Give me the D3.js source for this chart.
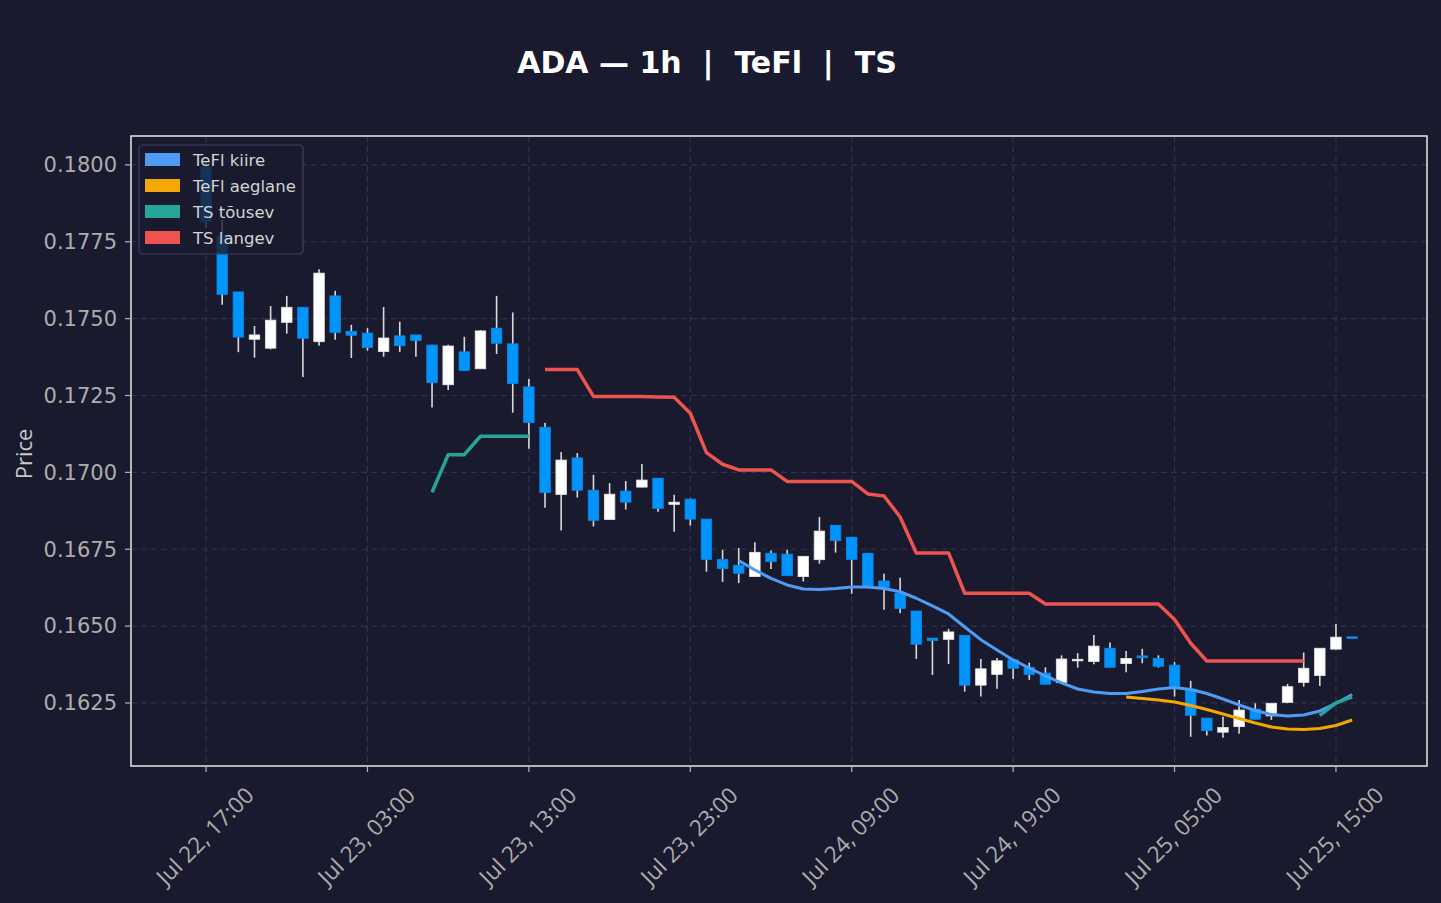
<!DOCTYPE html>
<html><head><meta charset="utf-8">
<script src="https://cdn.jsdelivr.net/npm/d3@7"></script>
<style>html,body{margin:0;padding:0;background:#1a1a2e;} svg{display:block}</style>
</head><body><svg id="c" width="1441" height="903"></svg>
<script>
// ---------- DATA ----------
const times = [
"2025-07-22T17:00","2025-07-22T18:00","2025-07-22T19:00","2025-07-22T20:00","2025-07-22T21:00","2025-07-22T22:00","2025-07-22T23:00",
"2025-07-23T00:00","2025-07-23T01:00","2025-07-23T02:00","2025-07-23T03:00","2025-07-23T04:00","2025-07-23T05:00","2025-07-23T06:00",
"2025-07-23T07:00","2025-07-23T08:00","2025-07-23T09:00","2025-07-23T10:00","2025-07-23T11:00","2025-07-23T12:00","2025-07-23T13:00",
"2025-07-23T14:00","2025-07-23T15:00","2025-07-23T16:00","2025-07-23T17:00","2025-07-23T18:00","2025-07-23T19:00","2025-07-23T20:00",
"2025-07-23T21:00","2025-07-23T22:00","2025-07-23T23:00","2025-07-24T00:00","2025-07-24T01:00","2025-07-24T02:00","2025-07-24T03:00",
"2025-07-24T04:00","2025-07-24T05:00","2025-07-24T06:00","2025-07-24T07:00","2025-07-24T08:00","2025-07-24T09:00","2025-07-24T10:00",
"2025-07-24T11:00","2025-07-24T12:00","2025-07-24T13:00","2025-07-24T14:00","2025-07-24T15:00","2025-07-24T16:00","2025-07-24T17:00",
"2025-07-24T18:00","2025-07-24T19:00","2025-07-24T20:00","2025-07-24T21:00","2025-07-24T22:00","2025-07-24T23:00","2025-07-25T00:00",
"2025-07-25T01:00","2025-07-25T02:00","2025-07-25T03:00","2025-07-25T04:00","2025-07-25T05:00","2025-07-25T06:00","2025-07-25T07:00",
"2025-07-25T08:00","2025-07-25T09:00","2025-07-25T10:00","2025-07-25T11:00","2025-07-25T12:00","2025-07-25T13:00","2025-07-25T14:00",
"2025-07-25T15:00","2025-07-25T16:00"];

const open = [.17994,.17767,.17587,.17433,.17404,.17488,.17537,.17425,.17574,.17459,.17453,.17393,.17444,.17447,
.17414,.17285,.17392,.17337,.17469,.17418,.17278,.17147,.16928,.17047,.16942,.16847,.16939,.16952,.16981,.16896,
.16913,.16848,.16717,.16698,.16661,.16737,.16734,.16661,.16716,.16828,.16789,.16737,.16647,.16607,.16549,.16461,
.16457,.16470,.16308,.16343,.16390,.16366,.16347,.16317,.16387,.16385,.16428,.16378,.16403,.16395,.16373,.16295,
.16201,.16155,.16173,.16230,.16208,.16252,.16317,.16339,.16425,.16465];
const high = [.18010,.17821,.17587,.17476,.17541,.17574,.17538,.17661,.17591,.17480,.17469,.17538,.17490,.17447,
.17415,.17415,.17441,.17463,.17574,.17520,.17304,.17161,.17066,.17063,.16992,.16965,.16972,.17027,.16981,.16927,
.16915,.16848,.16748,.16754,.16773,.16746,.16748,.16727,.16855,.16828,.16789,.16737,.16670,.16657,.16549,.16461,
.16491,.16470,.16393,.16396,.16390,.16381,.16366,.16405,.16412,.16471,.16447,.16419,.16426,.16405,.16383,.16322,
.16201,.16205,.16260,.16249,.16249,.16312,.16414,.16428,.16507,.16465];
const low = [.17795,.17545,.17391,.17373,.17400,.17451,.17310,.17412,.17431,.17372,.17396,.17376,.17392,.17376,
.17211,.17268,.17331,.17337,.17385,.17194,.17077,.16885,.16811,.16918,.16824,.16847,.16879,.16952,.16872,.16807,
.16827,.16677,.16644,.16640,.16661,.16686,.16664,.16645,.16703,.16739,.16605,.16623,.16553,.16542,.16393,.16341,
.16377,.16287,.16271,.16296,.16328,.16325,.16311,.16317,.16365,.16376,.16366,.16350,.16379,.16365,.16271,.16140,
.16144,.16137,.16150,.16197,.16195,.16249,.16303,.16305,.16425,.16461];
const close = [.17815,.17579,.17440,.17447,.17495,.17537,.17436,.17648,.17455,.17446,.17406,.17437,.17412,.17429,
.17292,.17411,.17331,.17460,.17420,.17289,.17162,.16934,.17040,.16942,.16844,.16929,.16903,.16975,.16883,.16903,
.16848,.16717,.16687,.16672,.16740,.16710,.16664,.16727,.16809,.16778,.16717,.16626,.16626,.16557,.16441,.16453,
.16481,.16308,.16361,.16387,.16363,.16343,.16311,.16393,.16392,.16435,.16366,.16395,.16397,.16369,.16303,.16210,
.16160,.16170,.16227,.16197,.16249,.16303,.16363,.16428,.16464,.16461];

const N = null;
const teflKiire = [N,N,N,N,N,N,N,N,N,N,N,N,N,N,N,N,N,N,N,N,N,N,N,N,N,N,N,N,N,N,N,N,N,
.167135,.166826,.16655,.166338,.166208,.166192,.166224,.166273,.166273,.166224,.16612,.165906,.165655,.165395,
.164972,.164559,.164224,.163899,.163638,.163378,.163151,.162955,.162858,.162809,.162809,.162874,.162955,.163004,
.162939,.162809,.16263,.162435,.162256,.162126,.162077,.16211,.16224,.162484,.162776];
const teflAeglane = [N,N,N,N,N,N,N,N,N,N,N,N,N,N,N,N,N,N,N,N,N,N,N,N,N,N,N,N,N,N,N,N,N,N,N,N,N,N,N,N,
N,N,N,N,N,N,N,N,N,N,N,N,N,N,N,N,N,
.162695,.162646,.162598,.162532,.162419,.162289,.162142,.161996,.161849,.161719,.161654,.161638,.16167,.161768,.161947];
const tsTousev = [N,N,N,N,N,N,N,N,N,N,N,N,N,N,
.169354,.170577,.170577,.171175,.171175,.171175,.171175,
N,N,N,N,N,N,N,N,N,N,N,N,
N,N,N,N,N,N,N,N,N,N,N,N,
N,N,N,N,N,N,N,N,N,N,N,N,
N,N,N,N,N,N,N,N,N,N,N,N,
.162093,.1625,.162695];
const tsLangev = [N,N,N,N,N,N,N,N,N,N,N,N,N,N,N,N,N,N,N,N,N,
.173342,.173342,.173342,.17247,.17247,.17247,.17247,.172454,.172444,.171923,.170642,.170264,.170079,.170079,.170079,
.169705,.169705,.169705,.169705,.169705,.169298,.169233,.16855,.167379,.167379,.167379,.166068,.166068,.166068,.166068,.166068,
.16572,.16572,.16572,.16572,.16572,.16572,.16572,.16572,.165216,.164442,.163866,.163866,.163866,.163866,.163866,.163866,.163866,
N,N,N];

const xTickTimes = ["2025-07-22T17:00","2025-07-23T03:00","2025-07-23T13:00","2025-07-23T23:00",
                    "2025-07-24T09:00","2025-07-24T19:00","2025-07-25T05:00","2025-07-25T15:00"];
const yTicks = [0.1625,0.1650,0.1675,0.1700,0.1725,0.1750,0.1775,0.1800];
const titleText = "ADA \u2014 1h  |  TeFl  |  TS";
const legendItems = [
  {label:"TeFl kiire", color:"#4f9cf4"},
  {label:"TeFl aeglane", color:"#f4a700"},
  {label:"TS t\u00f5usev", color:"#26a69a"},
  {label:"TS langev", color:"#ef5350"}];

// ---------- CHART ----------
const parse = d3.utcParse("%Y-%m-%dT%H:%M");
const fmt = d3.utcFormat("%b %d, %H:%M");
const T = times.map(parse);
const H = 3600e3;
const bg = "#1a1a2e";
const L = 131, R = 1427, Tp = 136, B = 766;

const svg = d3.select("#c");
svg.append("rect").attr("width",1441).attr("height",903).attr("fill",bg);

const x = d3.scaleUtc().domain([new Date(+T[0]-4.65*H), new Date(+T[T.length-1]+4.64*H)]).range([L,R]);
const y = d3.scaleLinear().domain([0.16045, 0.18094]).range([B,Tp]);

// grid
const grid = svg.append("g");
grid.selectAll(".gy").data(yTicks).join("line")
  .attr("x1",L).attr("x2",R).attr("y1",d=>y(d)).attr("y2",d=>y(d))
  .attr("stroke","#2f3250").attr("stroke-width",1.2).attr("stroke-dasharray","6,4");
const xt = xTickTimes.map(parse);
grid.selectAll(".gx").data(xt).join("line")
  .attr("y1",Tp).attr("y2",B).attr("x1",d=>x(d)).attr("x2",d=>x(d))
  .attr("stroke","#2f3250").attr("stroke-width",1.2).attr("stroke-dasharray","6,4");

// candles
const bw = 0.65*H;
const cg = svg.append("g");
const idx = d3.range(T.length);
cg.selectAll(".w").data(idx).join("line")
  .attr("x1",i=>x(T[i])).attr("x2",i=>x(T[i]))
  .attr("y1",i=>y(high[i])).attr("y2",i=>y(low[i]))
  .attr("stroke","#d9d9d9").attr("stroke-width",1.6);
cg.selectAll(".b").data(idx).join("rect")
  .attr("x",i=>x(new Date(+T[i]-bw/2)))
  .attr("width",i=>x(new Date(+T[i]+bw/2))-x(new Date(+T[i]-bw/2)))
  .attr("y",i=>y(Math.max(open[i],close[i])))
  .attr("height",i=>Math.max(1.5, Math.abs(y(open[i])-y(close[i]))))
  .attr("fill",i=>close[i]>=open[i]?"#ffffff":"#0094ff")
  .attr("stroke",i=>close[i]>=open[i]?"#e6e6e6":"#0a88e8").attr("stroke-width",0.8);

// lines
function drawLine(vals,color,w){
  const ln = d3.line().defined(i=>vals[i]!=null).x(i=>x(T[i])).y(i=>y(vals[i]));
  svg.append("path").datum(idx).attr("d",ln).attr("fill","none")
    .attr("stroke",color).attr("stroke-width",w).attr("stroke-linejoin","round").attr("stroke-linecap","butt");
}
drawLine(teflKiire,"#4f9cf4",3);
drawLine(teflAeglane,"#f4a700",3);
drawLine(tsTousev,"#26a69a",3.5);
drawLine(tsLangev,"#ef5350",3.5);

// frame
svg.append("rect").attr("x",L).attr("y",Tp).attr("width",R-L).attr("height",B-Tp)
  .attr("fill","none").attr("stroke","#dcdcdc").attr("stroke-width",1.6);

// y axis
const ya = svg.append("g");
ya.selectAll("line").data(yTicks).join("line")
  .attr("x1",L-6).attr("x2",L).attr("y1",d=>y(d)).attr("y2",d=>y(d)).attr("stroke","#b5b5b5").attr("stroke-width",1.2);
ya.selectAll("text").data(yTicks).join("text")
  .attr("x",L-14).attr("y",d=>y(d)).attr("dy","0.35em").attr("text-anchor","end")
  .attr("fill","#adadad").attr("font-family","DejaVu Sans").attr("font-size",21)
  .text(d3.format(".4f"));
svg.append("text").attr("transform","translate(32,454) rotate(-90)").attr("text-anchor","middle")
  .attr("fill","#c8c8c8").attr("font-family","Open Sans").attr("font-size",22).text("Price");

// x axis
const xa = svg.append("g");
xa.selectAll("line").data(xt).join("line")
  .attr("x1",d=>x(d)).attr("x2",d=>x(d)).attr("y1",B).attr("y2",B+6).attr("stroke","#b5b5b5").attr("stroke-width",1.2);
xa.selectAll("text").data(xt).join("text")
  .attr("transform",d=>`translate(${x(d)-1},836) rotate(-45)`)
  .attr("text-anchor","middle").attr("dy","0.35em")
  .attr("fill","#adadad").attr("font-family","Open Sans").attr("font-size",22.5)
  .text(d=>fmt(d));

// title
svg.append("text").attr("x",707).attr("y",73).attr("text-anchor","middle")
  .attr("fill","#ffffff").attr("font-family","DejaVu Sans").attr("font-weight","bold").attr("font-size",30)
  .attr("xml:space","preserve").style("white-space","pre").text(titleText);

// legend
const lg = svg.append("g");
lg.append("rect").attr("x",139).attr("y",145).attr("width",164).attr("height",109).attr("rx",4)
  .attr("fill",bg).attr("fill-opacity",0.8).attr("stroke","#3e4166").attr("stroke-width",1.2);
legendItems.forEach((d,k)=>{
  lg.append("rect").attr("x",145).attr("y",153+k*26).attr("width",35).attr("height",13).attr("fill",d.color);
  lg.append("text").attr("x",193).attr("y",160+k*26).attr("dy","0.35em")
    .attr("fill","#d4d4d4").attr("font-family","DejaVu Sans").attr("font-size",16.5).text(d.label);
});
</script></body></html>
